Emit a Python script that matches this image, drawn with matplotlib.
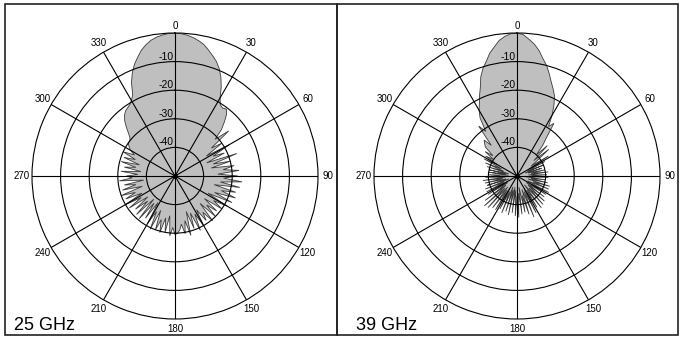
import numpy as np
import matplotlib
matplotlib.use('Agg')
import matplotlib.pyplot as plt
import matplotlib.transforms as mtransforms
from matplotlib.patches import Rectangle

# angoli di misura (gradi) e guadagno normalizzato (dB)
angles = np.arange(0, 360, 2.5)

gain_25 = [
    0, -0.2, -0.6, -1.2, -2, -3, -4.5, -6, -7.5, -9.5, -12, -15,
    -18.5, -20.5, -21, -20.5, -22, -24.5, -27, -31, -25.5, -34, -30, -37,
    -28, -35, -31, -38, -27, -36, -30, -37, -29, -33, -27.5, -35,
    -28, -33, -26.5, -34, -27, -36, -28, -33, -27.5, -35, -28, -37,
    -29, -34, -30, -37, -31, -35, -30, -37, -29.5, -34, -31, -36,
    -30, -35, -29, -36, -30.5, -37, -28.5, -34, -29.5, -33, -31, -30,
    -29.5, -32, -29, -36, -30, -35, -29.5, -34, -30, -37, -29.5, -36,
    -31, -39, -32, -38, -30.5, -39, -31, -37, -32, -38, -30.5, -36,
    -30, -37, -31, -35, -30, -38, -31, -36, -32, -39, -30.5, -35,
    -33, -37, -31, -38, -32, -36, -30.5, -37, -31, -35, -30, -34,
    -32, -31, -30, -30, -29.5, -28, -26, -24, -22.5, -21.5, -21, -20.5,
    -19.5, -18, -14, -11, -8.5, -6.5, -4.5, -3, -1.8, -1, -0.5, -0.1,
]

gain_39 = [
    0, -0.5, -2, -3.5, -5.5, -8, -10, -12.5, -15, -17, -19, -22,
    -25.5, -29.5, -27.5, -33, -36, -40, -35, -42, -35.5, -41, -44, -37,
    -45, -39, -46, -40, -47, -41, -46, -40, -45, -39, -46, -39.5,
    -45, -39, -47, -40, -45, -39, -46, -38, -44, -38, -46, -37.5,
    -44, -38, -46, -38, -45, -37, -44, -36.5, -46, -36, -44, -37,
    -45, -35.5, -44, -34.5, -45, -36, -43, -37, -46, -36.5, -44, -35.5,
    -43, -36, -45, -37, -46, -36, -45, -37, -46, -36, -44, -37,
    -45, -36, -44, -36, -45, -35, -44, -34.5, -45, -36, -46, -38,
    -46, -38, -45, -38, -47, -39, -46, -38.5, -45, -38, -46, -39,
    -44, -40, -47, -40, -46, -40, -47, -39, -45, -38, -44, -37,
    -42, -37, -40, -36, -39, -35, -34, -33, -36, -28, -31, -26,
    -23.5, -21.5, -19, -16.5, -13, -10.5, -8.5, -6, -4.2, -2.2, -1, -0.2,
]

titles = ['25 GHz', '39 GHz']
theta_labels = ['0', '30', '60', '90', '120', '150', '180', '210', '240', '270', '300', '330']
ring_labels = ['-10', '-20', '-30', '-40']
floor_db = -50

W, H = 682, 339
fig = plt.figure(figsize=(W / 100, H / 100), dpi=100)
font = 'Liberation Sans'

# cornici dei due pannelli
for x0, x1 in [(5, 337), (337, 678)]:
    fig.add_artist(Rectangle((x0 / W, 4 / H), (x1 - x0) / W, 331 / H,
                             transform=fig.transFigure, fill=False,
                             edgecolor='#222222', lw=1.2))

centers = [175, 517]
R = 143
for cx, gains, title in zip(centers, [gain_25, gain_39], titles):
    ax = fig.add_axes([(cx - R) / W, (H - 176 - R) / H, 2 * R / W, 2 * R / H],
                      projection='polar')
    ax.set_theta_zero_location('N')
    ax.set_theta_direction(-1)
    ax.set_ylim(0, -floor_db)

    th = np.radians(np.append(angles, angles[0]))
    r = np.clip(np.append(gains, gains[0]) - floor_db, 0, None)
    ax.fill(th, r, facecolor='#bfbfbf', edgecolor='#3a3a3a', lw=0.6, zorder=1)

    ax.set_thetagrids(range(0, 360, 30), labels=[])
    ax.set_rgrids([10, 20, 30, 40], labels=[])
    ax.grid(True, color='black', lw=0.8)
    ax.set_axisbelow(False)
    ax.spines['polar'].set_color('black')
    ax.spines['polar'].set_linewidth(0.8)
    ax.patch.set_alpha(0)
    ax.plot([0], [0], 'o', color='black', ms=2.5, zorder=5)

    for i, lab in enumerate(theta_labels):
        rr = 52.4 if i == 0 else 53.5
        ax.text(np.radians(i * 30), rr, lab, ha='center', va='center',
                fontsize=7, family=font, clip_on=False)

    off = mtransforms.offset_copy(ax.transData, fig=fig, x=-9, y=5, units='dots')
    for k, lab in enumerate(ring_labels):
        ax.text(0, 40 - 10 * k, lab, transform=off, ha='center', va='center',
                fontsize=7.5, family=font, zorder=6)

    fig.text((cx - 161) / W, 9 / H, title, fontsize=13, family=font,
             ha='left', va='baseline')

fig.savefig('out.png', dpi=100)
